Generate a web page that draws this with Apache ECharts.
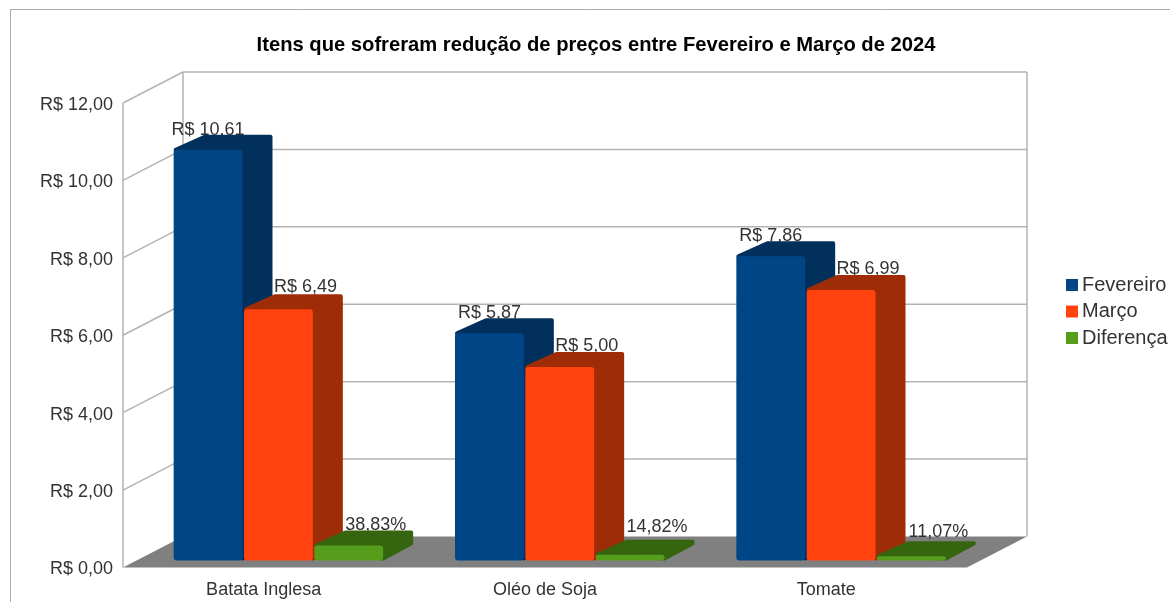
<!DOCTYPE html>
<html>
<head>
<meta charset="utf-8">
<style>
  html, body { margin: 0; padding: 0; background: #fff; }
  #chart { width: 1170px; height: 602px; }
</style>
<script src="https://cdn.jsdelivr.net/npm/echarts@6/dist/echarts.min.js"></script>
</head>
<body>
<div id="chart"></div>
<script>
const categories = ['Batata Inglesa', 'Oléo de Soja', 'Tomate']
const fevereiro = [10.61, 5.87, 7.86]
const marco = [6.49, 5.00, 6.99]
const diferenca = [0.3883, 0.1482, 0.1107]
const yTicks = [0, 2, 4, 6, 8, 10, 12]

const FONT = '"Liberation Sans", Arial, sans-serif'
const TEXT = '#333333'
const WALL = '#b3b3b3'

// profundidade da caixa 3D
const boxDx = 60, boxDy = -31
// deslocamento da barra dentro da caixa e profundidade da barra
const barDx = 15, barDy = -7
const depthX = 30, depthY = -15

const money = v => 'R$ ' + v.toFixed(2).replace('.', ',')
const percent = v => (v * 100).toFixed(2).replace('.', ',') + '%'

/** parede lateral, parede do fundo e piso */
function renderWall(params, api) {
  const rect = params.coordSys
  const y = api.coord([0, api.value(1)])[1]
  const left = rect.x, right = rect.x + rect.width
  const line = {stroke: WALL, lineWidth: 1.5}
  const children = []
  if (api.value(1) === 0) {
    children.push({
      type: 'polygon',
      shape: {points: [[left, y], [right, y], [right + boxDx, y + boxDy], [left + boxDx, y + boxDy]]},
      style: {fill: '#808080'},
    })
    // verticais
    children.push(
      {type: 'line', shape: {x1: left, y1: y, x2: left, y2: rect.y}, style: line},
      {type: 'line', shape: {x1: left + boxDx, y1: y + boxDy, x2: left + boxDx, y2: rect.y + boxDy}, style: line},
      {type: 'line', shape: {x1: right + boxDx, y1: y + boxDy, x2: right + boxDx, y2: rect.y + boxDy}, style: line}
    )
    return {type: 'group', children}
  }
  children.push(
    {type: 'line', shape: {x1: left, y1: y, x2: left + boxDx, y2: y + boxDy}, style: line},
    {type: 'line', shape: {x1: left + boxDx, y1: y + boxDy, x2: right + boxDx, y2: y + boxDy}, style: line}
  )
  return {type: 'group', children}
}

/** barra 3D: rótulo fica atrás da barra como no original */
function makeBar(index, colors, format, labelShift, labelLift) {
  return function (params, api) {
    const i = api.value(0)
    const value = api.value(1)
    const band = api.size([1, 0])[0]
    const width = band / 4
    const top = api.coord([i, value])
    const base = api.coord([i, 0])
    const x0 = top[0] + barDx + (index - 1.5) * width + 0.5
    const x1 = x0 + width - 1.5
    const y0 = top[1] + barDy
    const y1 = base[1] + barDy
    const r = 2 // cantos arredondados do topo e da lateral
    return {
      type: 'group',
      children: [
        {
          type: 'text',
          style: {
            text: format(value),
            x: (x0 + x1) / 2 + labelShift,
            y: y0 - 20 - labelLift[i],
            fill: TEXT,
            font: '18px ' + FONT,
            textAlign: 'center',
            textVerticalAlign: 'middle',
          },
        },
        {
          type: 'polygon',
          shape: {
            points: [
              [x0 + r, y0],
              [x0 + depthX + r / 2, y0 + depthY + r],
              [x1 + depthX - r, y0 + depthY + r],
              [x1 + depthX - r, Math.max(y1 + depthY - r, y0 + depthY + r)],
              [x1, y1 - r],
            ],
          },
          style: {fill: colors.side, stroke: colors.side, lineWidth: r * 2, lineJoin: 'round'},
        },
        {
          type: 'rect',
          shape: {x: x0, y: y0, width: x1 - x0, height: y1 - y0, r: Math.min(3, (y1 - y0) / 2)},
          style: {fill: colors.front},
        },
      ],
    }
  }
}

function barSeries(name, values, index, colors, format, labelShift, labelLift) {
  return {
    type: 'custom',
    name,
    itemStyle: {color: colors.front},
    encode: {x: 0, y: 1},
    data: values.map((v, i) => [i, v]),
    renderItem: makeBar(index, colors, format, labelShift, labelLift),
    z: 3 + index,
  }
}

const chart = echarts.init(document.getElementById('chart'))
chart.setOption({
  animation: false,
  backgroundColor: '#fff',
  title: {
    text: 'Itens que sofreram redução de preços entre Fevereiro e Março de 2024',
    left: 591,
    top: 30,
    textAlign: 'center',
    textStyle: {fontFamily: FONT, fontSize: 20.2, fontWeight: 'bold', color: '#000'},
  },
  legend: {
    data: ['Fevereiro', 'Março', 'Diferença'],
    orient: 'vertical',
    left: 1066,
    top: 275,
    icon: 'rect',
    itemWidth: 12,
    itemHeight: 12,
    itemGap: 6.5,
    padding: 0,
    selectedMode: false,
    textStyle: {fontFamily: FONT, fontSize: 20, color: TEXT, padding: [0, 0, 0, -1]},
  },
  grid: {left: 123, right: 203, top: 103, bottom: 34.5},
  xAxis: {
    type: 'category',
    data: categories,
    axisLine: {show: false},
    axisTick: {show: false},
    axisLabel: {fontFamily: FONT, fontSize: 18, color: TEXT, margin: 14},
  },
  yAxis: {
    type: 'value',
    min: 0,
    max: 12,
    interval: 2,
    axisLine: {show: false},
    axisTick: {show: false},
    splitLine: {show: false},
    axisLabel: {
      margin: 10,
      formatter: v => '{v|' + money(v) + '}',
      rich: {v: {fontFamily: FONT, fontSize: 18, color: TEXT, padding: [4, 0, 0, 0]}},
      verticalAlignMinLabel: 'middle',
      verticalAlignMaxLabel: 'middle',
    },
  },
  graphic: [{
    type: 'polyline',
    shape: {points: [[10.5, 602], [10.5, 9.5], [1170, 9.5]]},
    style: {stroke: '#aaaaaa', lineWidth: 1, fill: null},
    silent: true,
  }],
  series: [
    {
      type: 'custom',
      name: 'paredes',
      encode: {x: 0, y: 1},
      data: yTicks.map(t => [0, t]),
      renderItem: renderWall,
      silent: true,
      z: 1,
    },
    barSeries('Fevereiro', fevereiro, 0, {front: '#004586', side: '#02305c'}, money, 0, [0, 0, 0]),
    barSeries('Março', marco, 1, {front: '#ff420e', side: '#9e2c07'}, money, 27, [2.5, 1, 1]),
    barSeries('Diferença', diferenca, 2, {front: '#579d1c', side: '#366510'}, percent, 27, [0, 8, 4]),
  ],
})
</script>
</body>
</html>
